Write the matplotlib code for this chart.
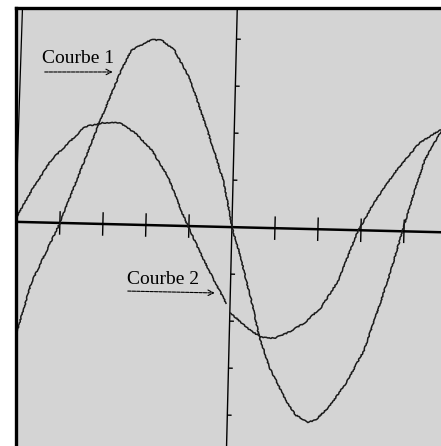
import matplotlib
matplotlib.use("Agg")
import matplotlib.pyplot as plt
from matplotlib.transforms import Affine2D

# values (t in x-tick units, v in y-tick units)
t1 = [-5.05, -4.63, -4.0, -3.14, -2.67, -2.44, -1.98, -1.74, -1.44, -1.05,
      -0.74, -0.44, -0.21, 0.02, 0.19, 0.49, 0.70, 0.95, 1.35, 1.58, 1.88,
      2.05, 2.35, 2.74, 3.14, 3.51, 3.74, 3.95, 4.21, 4.44, 4.77, 4.95]
v1 = [-2.72, -1.29, 0.0, 2.15, 3.26, 3.71, 3.94, 3.94, 3.74, 3.11,
      2.33, 1.57, 0.93, -0.06, -0.55, -1.54, -2.32, -2.96, -3.65, -3.96, -4.11,
      -4.06, -3.78, -3.26, -2.55, -1.48, -0.77, -0.04, 0.82, 1.52, 2.10, 2.25]

t2 = [-5.05, -4.63, -4.23, -3.84, -3.47, -3.07, -2.67, -2.30, -1.91, -1.51,
      -1.16, -0.98, -0.67, -0.35, -0.09]
v2 = [0.04, 0.75, 1.34, 1.71, 2.06, 2.15, 2.16, 1.95, 1.60, 1.03,
      0.27, -0.08, -0.65, -1.20, -1.62]
# second piece of curve 2 (small break in the trace near the y axis)
t2b = [0.02, 0.42, 0.72, 1.05, 1.35, 1.74, 2.12, 2.51, 2.91, 3.28, 3.74,
       4.30, 4.77, 4.95]
v2b = [-1.83, -2.14, -2.32, -2.34, -2.22, -2.00, -1.66, -1.07, -0.06, 0.58,
       1.23, 1.88, 2.17, 2.22]

xticks = [-4, -3, -2, -1, 1, 2, 3, 4]
yticks = [-4, -3, -2, -1, 1, 2, 3, 4]

# faint line at the left edge of the screen
edge_t = [-4.99, -5.01, -5.03]
edge_v = [4.62, 2.5, 0.2]

fig = plt.figure(figsize=(4.41, 4.46), dpi=100, facecolor="white")
ax = fig.add_axes([15.5/441, -0.05, 1.0, 1.033])
ax.set_facecolor("#d4d4d4")
ax.set_xlim(-5.03, 5.22)
ax.set_ylim(-5.13, 4.67)
ax.set_xticks([])
ax.set_yticks([])
for s in ["right", "bottom"]:
    ax.spines[s].set_visible(False)
for s in ["left", "top"]:
    ax.spines[s].set_linewidth(2.4)
    ax.spines[s].set_color("black")

# the scan is a bit tilted
ox, oy = ax.transData.transform((0, 0))
tr = ax.transData + Affine2D().rotate_deg_around(ox, oy, -1.4)

# axes
ax.plot([-6, 6], [0, 0], color="black", lw=1.8, transform=tr)
ax.plot([0, 0], [-6, 6], color="black", lw=1.0, transform=tr)
ax.vlines(xticks, -0.25, 0.25, color="black", lw=1.0, transform=tr)
ax.hlines(yticks, 0, 0.1, color="black", lw=1.0, transform=tr)
ax.plot(edge_t, edge_v, color="black", lw=0.9, transform=tr)

# curves
for tt, vv in [(t1, v1), (t2, v2), (t2b, v2b)]:
    ln, = ax.plot(tt, vv, color="#1a1a1a", lw=1.1, transform=tr)
    ln.set_sketch_params(0.5, 3, 10)

# labels
ax.text(-4.42, 3.49, "Courbe 1", family="Liberation Serif", fontsize=14,
        ha="left", va="baseline")
ax.annotate("", xy=(-2.77, 3.30), xytext=(-4.35, 3.30),
            arrowprops=dict(arrowstyle="->", lw=0.8, ls=(0, (3, 1)),
                            color="black", shrinkA=0, shrinkB=0))
ax.text(-2.44, -1.21, "Courbe 2", family="Liberation Serif", fontsize=14,
        ha="left", va="baseline")
ax.annotate("", xy=(-0.40, -1.40), xytext=(-2.42, -1.36),
            arrowprops=dict(arrowstyle="->", lw=0.8, ls=(0, (3, 1)),
                            color="black", shrinkA=0, shrinkB=0))

fig.savefig("out.png", dpi=100, facecolor="white")
